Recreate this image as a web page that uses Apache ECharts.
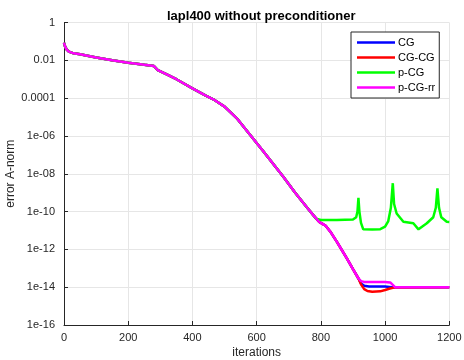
<!DOCTYPE html>
<html>
<head>
<meta charset="utf-8">
<script src="https://cdn.jsdelivr.net/npm/echarts@6/dist/echarts.min.js"></script>
<style>
html,body{margin:0;padding:0;background:#fff;}
#c{width:464px;height:360px;}
</style>
</head>
<body>
<div id="c"></div>
<script>
// ---- data (log10 of error A-norm) ----
var seriesNames = ['CG', 'CG-CG', 'p-CG', 'p-CG-rr'];
var seriesColors = ['#0000ff', '#ff0000', '#00ff00', '#ff00ff'];
var xTicks = [0, 200, 400, 600, 800, 1000, 1200];
var yTickLabels = ['1', '0.01', '0.0001', '1e-06', '1e-08', '1e-10', '1e-12', '1e-14', '1e-16'];

// common path shared by all methods
var commonIter = [0, 3, 8, 15, 30, 50, 100, 150, 200, 250, 280, 285, 292, 320, 350, 400, 440, 465, 500, 540, 580, 620, 683, 720, 760, 777];
var commonLog  = [-1.07, -1.25, -1.42, -1.54, -1.63, -1.68, -1.85, -2.0, -2.13, -2.24, -2.30, -2.40, -2.52, -2.75, -3.0, -3.48, -3.85, -4.06, -4.45, -5.1, -5.95, -6.8, -8.16, -9.0, -9.85, -10.2];

// shared by CG, CG-CG, p-CG-rr after p-CG leaves
var midIter = [795, 805, 815, 829, 850, 880, 900, 917];
var midLog  = [-10.55, -10.65, -10.75, -11.05, -11.6, -12.45, -13.05, -13.54];

var cgTailIter = [925, 935, 950, 1000, 1020, 1200];
var cgTailLog  = [-13.8, -13.93, -13.96, -13.96, -14.0, -14.0];

var cgcgTailIter = [925, 935, 945, 960, 985, 1000, 1015, 1030, 1200];
var cgcgTailLog  = [-13.85, -14.1, -14.2, -14.24, -14.22, -14.15, -14.07, -14.01, -14.0];

var pcgTailIter = [785, 800, 850, 900, 910, 914, 917, 920, 925, 932, 960, 985, 1000, 1010, 1018, 1024, 1028, 1036, 1057, 1088, 1104, 1115, 1130, 1150, 1158, 1163, 1168, 1175, 1192, 1200];
var pcgTailLog  = [-10.38, -10.45, -10.45, -10.42, -10.3, -10.0, -9.27, -10.0, -10.6, -10.94, -10.95, -10.93, -10.8, -10.5, -9.8, -8.5, -9.6, -10.1, -10.54, -10.62, -10.94, -10.8, -10.62, -10.3, -9.8, -8.77, -9.8, -10.3, -10.54, -10.55];

var pcgrrTailIter = [925, 935, 1000, 1016, 1031, 1200];
var pcgrrTailLog  = [-13.68, -13.72, -13.72, -13.75, -14.0, -14.0];

function build(iters, logs) {
  var out = [];
  for (var k = 0; k < iters.length; k++) {
    for (var i = 0; i < iters[k].length; i++) {
      out.push([iters[k][i], Math.pow(10, logs[k][i])]);
    }
  }
  return out;
}

var seriesData = [
  build([commonIter, midIter, cgTailIter], [commonLog, midLog, cgTailLog]),
  build([commonIter, midIter, cgcgTailIter], [commonLog, midLog, cgcgTailLog]),
  build([commonIter, pcgTailIter], [commonLog, pcgTailLog]),
  build([commonIter, midIter, pcgrrTailIter], [commonLog, midLog, pcgrrTailLog])
];

var FONT = '"Liberation Sans", Arial, Helvetica, sans-serif';
var chart = echarts.init(document.getElementById('c'), null, {renderer: 'canvas'});
var option = {
  backgroundColor: '#ffffff',
  animation: false,
  title: {
    text: 'lapl400 without preconditioner',
    left: 162,
    top: 5,
    textStyle: {fontFamily: FONT, fontSize: 13, fontWeight: 'bold', color: '#000'}
  },
  legend: {
    orient: 'vertical',
    left: 351,
    top: 32,
    padding: [4, 4, 4, 6],
    icon: 'rect',
    itemWidth: 38,
    itemHeight: 2.5,
    itemGap: 2,
    backgroundColor: '#ffffff',
    borderColor: '#262626',
    borderWidth: 1,
    textStyle: {fontFamily: FONT, fontSize: 11, color: '#000', lineHeight: 13, padding: [0, 0, 0, -2]},
    data: seriesNames
  },
  grid: {left: 64, right: 14.7, top: 22.5, bottom: 35, containLabel: false, outerBoundsMode: 'none'},
  xAxis: {
    type: 'value',
    min: xTicks[0],
    max: xTicks[xTicks.length - 1],
    interval: 200,
    name: 'iterations',
    nameLocation: 'middle',
    nameGap: 22,
    nameMoveOverlap: false,
    nameTextStyle: {fontFamily: FONT, fontSize: 12, color: '#262626'},
    axisLine: {show: true, lineStyle: {color: '#262626', width: 1}},
    axisTick: {show: true, inside: true, length: 4, lineStyle: {color: '#262626'}},
    axisLabel: {fontFamily: FONT, fontSize: 11, color: '#262626', margin: 7,
      formatter: function (v) { return String(v); }},
    splitLine: {show: true, lineStyle: {color: '#e6e6e6', width: 1}}
  },
  yAxis: {
    type: 'log',
    logBase: 10,
    min: 1e-16,
    max: 1,
    interval: 2,
    name: 'error A-norm',
    nameLocation: 'middle',
    nameGap: 47,
    nameMoveOverlap: false,
    nameTextStyle: {fontFamily: FONT, fontSize: 12, color: '#262626'},
    axisLine: {show: true, lineStyle: {color: '#262626', width: 1}},
    axisTick: {show: true, inside: true, length: 4, lineStyle: {color: '#262626'}},
    axisLabel: {
      fontFamily: FONT, fontSize: 11, color: '#262626', margin: 9,
      formatter: function (v) {
        var e = Math.round(Math.log(v) / Math.LN10);
        var idx = -e / 2;
        return yTickLabels[idx] !== undefined ? yTickLabels[idx] : '';
      }
    },
    splitLine: {show: true, lineStyle: {color: '#e6e6e6', width: 1}},
    minorTick: {show: false},
    minorSplitLine: {show: false}
  },
  series: seriesNames.map(function (n, i) {
    return {
      name: n,
      type: 'line',
      data: seriesData[i],
      symbol: 'none',
      showSymbol: false,
      smooth: false,
      color: seriesColors[i],
      lineStyle: {color: seriesColors[i], width: 2.5},
      z: 2 + i
    };
  })
};
chart.setOption(option);
</script>
</body>
</html>
